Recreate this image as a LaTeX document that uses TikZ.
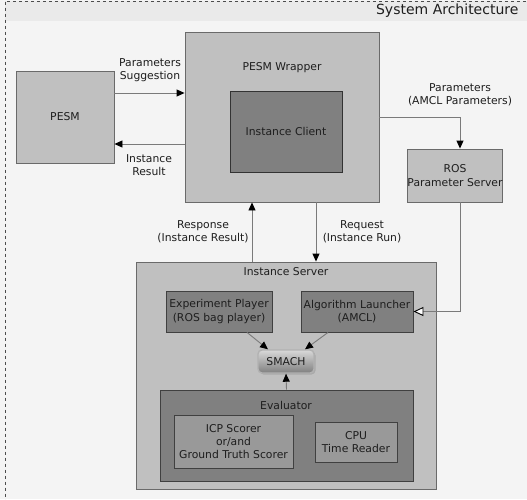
\documentclass[tikz,border=0pt]{standalone}
\usepackage{fontspec}
\setmainfont{DejaVu Sans}
\usetikzlibrary{arrows.meta,shadows}
\definecolor{pagecol}{HTML}{F4F4F4}
\definecolor{bandcol}{HTML}{EAEAEA}
\definecolor{lightbox}{HTML}{C0C0C0}
\definecolor{darkbox}{HTML}{808080}
\definecolor{midbox}{HTML}{999999}
\definecolor{edgecol}{HTML}{6A6A6A}
\definecolor{linecol}{HTML}{7A7A7A}
\definecolor{textcol}{HTML}{1E1E1E}
\tikzset{every node/.style={font=\fontsize{10.8}{13.3}\selectfont, text=textcol, align=center}}

\begin{document}
\begin{tikzpicture}[x=1pt, y=-1pt,
    lightblock/.style={draw=edgecol, fill=lightbox, line width=0.9pt, inner sep=0pt},
    darkblock/.style={draw=black!75, fill=darkbox, line width=0.9pt, inner sep=0pt},
    midblock/.style={draw=black!75, fill=midbox, line width=0.9pt, inner sep=0pt},
    flow/.style={draw=linecol, line width=0.9pt, -{Triangle[length=8pt, width=7pt, color=black]}},
    openflow/.style={draw=linecol, line width=0.9pt, -{Triangle[length=10pt, width=9pt, fill=white, color=black]}}]

  % Page and frame.
  \useasboundingbox (0,0) rectangle (527,499);
  \fill[pagecol] (0,0) rectangle (527,499);
  \fill[bandcol] (5,1) rectangle (530,21);
  \draw[black!70, dashed, line width=0.6pt] (5.5,1.5) rectangle (540,510);
  \node[anchor=east, font=\fontsize{14}{16}\selectfont] (title) at (522,11) {System Architecture};

  % Upper blocks.
  \node[lightblock, minimum width=98pt, minimum height=92pt] (pesm) at (65,117) {PESM};
  \node[lightblock, minimum width=194pt, minimum height=170pt] (wrapper) at (282,117) {};
  \node (wrapperlbl) at (282,68) {PESM Wrapper};
  \node[darkblock, draw=black!80, minimum width=112pt, minimum height=81pt] (client) at (286,131.5) {Instance Client};
  \node[lightblock, minimum width=94pt, minimum height=53pt] (ros) at (455,175.5) {ROS\\Parameter Server};

  % Instance server.
  \node[lightblock, minimum width=300pt, minimum height=227pt] (server) at (286,375.5) {};
  \node (serverlbl) at (286,272) {Instance Server};
  \node[darkblock, minimum width=106pt, minimum height=41pt] (player) at (219,311.5) {Experiment Player\\(ROS bag player)};
  \node[darkblock, minimum width=112pt, minimum height=41pt] (launcher) at (357,311.5) {Algorithm Launcher\\(AMCL)};
  \node[draw=black!30, line width=1.4pt, rounded corners=4pt, top color=black!15, bottom color=black!50,
    minimum width=56pt, minimum height=23pt, inner sep=0pt,
    drop shadow={shadow xshift=1.5pt, shadow yshift=-1.5pt, opacity=0.35}] (smach) at (286,361.5) {SMACH};

  % Evaluator.
  \node[darkblock, minimum width=253pt, minimum height=91pt] (evaluator) at (286.5,435.5) {};
  \node (evallbl) at (286,405) {Evaluator};
  \node[midblock, minimum width=119pt, minimum height=53pt] (icp) at (233.5,441.5) {ICP Scorer\\or/and\\Ground Truth Scorer};
  \node[midblock, minimum width=82pt, minimum height=40pt] (cpu) at (356,442) {CPU\\Time Reader};

  % Connectors.
  \draw[flow] ([yshift=24pt]pesm.east) -- ([yshift=24pt]pesm.east -| wrapper.west);
  \draw[flow] ([yshift=-27pt]wrapper.west) -- ([yshift=-27pt]wrapper.west -| pesm.east);
  \draw[flow] (wrapper.east) -| ([xshift=5pt]ros.north);
  \draw[flow] ([xshift=-34pt]server.north) -- ([xshift=-34pt]server.north |- wrapper.south);
  \draw[flow] ([xshift=30pt]server.north |- wrapper.south) -- ([xshift=30pt]server.north);
  \draw[openflow] ([xshift=5pt]ros.south) |- (launcher.east);
  \draw[flow] ([xshift=28pt]player.south) -- ([xshift=-18pt]smach.north);
  \draw[flow] ([xshift=-29pt]launcher.south) -- ([xshift=19pt]smach.north);
  \draw[flow] (evaluator.north) -- (smach.south);

  % Connector labels.
  \node (sugglbl) at (150,70) {Parameters\\Suggestion};
  \node (resultlbl) at (149,165) {Instance\\Result};
  \node (paramlbl) at (460,95) {Parameters\\(AMCL Parameters)};
  \node (resplbl) at (203,232) {Response\\(Instance Result)};
  \node (reqlbl) at (362,232) {Request\\(Instance Run)};

\end{tikzpicture}
\end{document}
